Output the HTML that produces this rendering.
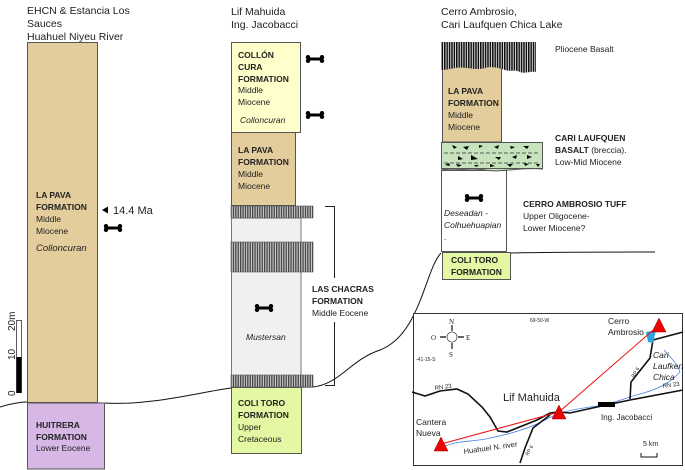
<!DOCTYPE html>
<html><head><meta charset="utf-8"><style>
html,body{margin:0;padding:0;background:#fff}
svg{display:block}
text{font-family:"Liberation Sans",sans-serif;fill:#222}
.t{font-size:10.5px}
.b{font-size:8.5px;font-weight:bold}
.n{font-size:8.5px}
.i{font-size:8.5px;font-style:italic}
</style></head><body>
<svg width="685" height="470" viewBox="0 0 685 470" xmlns="http://www.w3.org/2000/svg">
<defs>
<pattern id="h" width="2.4" height="10" patternUnits="userSpaceOnUse"><rect width="2.4" height="10" fill="#ccc"/><rect width="1.3" height="10" fill="#444"/></pattern>
<pattern id="hb" width="2.4" height="10" patternUnits="userSpaceOnUse"><rect width="2.4" height="10" fill="#fff"/><rect width="1.6" height="10" fill="#111"/></pattern>
<g id="bone"><rect x="3" y="-1.5" width="14" height="3" fill="#000"/><circle cx="3" cy="-1.8" r="2.2"/><circle cx="3" cy="1.8" r="2.2"/><circle cx="17" cy="-1.8" r="2.2"/><circle cx="17" cy="1.8" r="2.2"/></g>
</defs>

<!-- contact line -->
<path d="M0,407 C10,404 18,402 27,402 L104,403 C150,406 200,392 231,388 L313,387 C340,384 350,360 380,350 C420,335 425,270 441,253" fill="none" stroke="#111" stroke-width="1"/>
<path d="M511,253 C560,252 620,252 655,252" fill="none" stroke="#111" stroke-width="1"/>

<!-- column 1 -->
<text class="t" x="27" y="14">EHCN &amp; Estancia Los</text>
<text class="t" x="27" y="27">Sauces</text>
<text class="t" x="27" y="40">Huahuel Niyeu River</text>
<rect x="27.5" y="42.5" width="70" height="360" fill="#e3cd9c" stroke="#555"/>
<rect x="27.5" y="403" width="77" height="66" fill="#d6b7e6" stroke="#555"/>
<text class="b" x="36" y="198">LA PAVA</text>
<text class="b" x="36" y="210">FORMATION</text>
<text class="n" x="36" y="222">Middle</text>
<text class="n" x="36" y="234">Miocene</text>
<text class="i" x="36" y="251" style="font-size:9.5px">Colloncuran</text>
<text class="b" x="36" y="428">HUITRERA</text>
<text class="b" x="36" y="440">FORMATION</text>
<text class="n" x="36" y="451">Lower Eocene</text>
<path d="M102,210 L108,206.5 L108,213.5Z" fill="#000"/>
<text x="113" y="214" style="font-size:11px">14.4 Ma</text>
<use href="#bone" x="103" y="228"/>
<rect x="16.5" y="320.5" width="5" height="72" fill="#fff" stroke="#333" stroke-width="0.8"/>
<rect x="16.5" y="357" width="5" height="36" fill="#000"/>
<text x="15" y="396" transform="rotate(-90 15 396)" style="font-size:10px">0</text>
<text x="15" y="360" transform="rotate(-90 15 360)" style="font-size:10px">10</text>
<text x="15" y="331" transform="rotate(-90 15 331)" style="font-size:10px">20m</text>

<!-- column 2 -->
<text class="t" x="231" y="15">Lif Mahuida</text>
<text class="t" x="231" y="28">Ing. Jacobacci</text>
<rect x="231.5" y="42.5" width="69" height="90" fill="#ffffcc" stroke="#555"/>
<rect x="231.5" y="132.5" width="64" height="73" fill="#e3cd9c" stroke="#555"/>
<rect x="231.5" y="218" width="69.5" height="158" fill="#f0f0f0" stroke="#777"/>
<rect x="231" y="206" width="82" height="12" fill="url(#h)" stroke="#555" stroke-width="0.6"/>
<rect x="231" y="242" width="82" height="30" fill="url(#h)" stroke="#555" stroke-width="0.6"/>
<rect x="231" y="375" width="82" height="12" fill="url(#h)" stroke="#555" stroke-width="0.6"/>
<rect x="231.5" y="387.5" width="70" height="66" fill="#e4f7a2" stroke="#555"/>
<text class="b" x="238" y="58">COLLÓN</text>
<text class="b" x="238" y="70">CURA</text>
<text class="b" x="238" y="82">FORMATION</text>
<text class="n" x="238" y="93">Middle</text>
<text class="n" x="238" y="105">Miocene</text>
<text class="i" x="240" y="123">Colloncuran</text>
<use href="#bone" x="305" y="59"/>
<use href="#bone" x="305" y="115"/>
<text class="b" x="238" y="153">LA PAVA</text>
<text class="b" x="238" y="165">FORMATION</text>
<text class="n" x="238" y="177">Middle</text>
<text class="n" x="238" y="189">Miocene</text>
<use href="#bone" x="254" y="308"/>
<text class="i" x="246" y="340">Mustersan</text>
<text class="b" x="238" y="406">COLI TORO</text>
<text class="b" x="238" y="418">FORMATION</text>
<text class="n" x="238" y="430">Upper</text>
<text class="n" x="238" y="442">Cretaceous</text>
<path d="M325,206.5 H334.5 V278 M334.5,322 V385.5 H325" fill="none" stroke="#222" stroke-width="1"/>
<text class="b" x="312" y="292">LAS CHACRAS</text>
<text class="b" x="312" y="304">FORMATION</text>
<text class="n" x="312" y="316">Middle Eocene</text>

<!-- column 3 -->
<text class="t" x="441" y="15">Cerro Ambrosio,</text>
<text class="t" x="441" y="28">Cari Laufquen Chica Lake</text>
<rect x="441.5" y="170.5" width="65" height="81" fill="#fff" stroke="#555"/>
<rect x="442.5" y="252.5" width="68" height="27" fill="#e4f7a2" stroke="#555"/>
<rect x="442.5" y="60" width="59" height="82" fill="#e3cd9c" stroke="#555"/>
<path d="M441,42 H536 V72 C530,71 525,74 520,72 C515,69 510,72 505,70 C498,68 492,66 485,68 C475,71 465,66 455,68 C450,69 445,70 441,70Z" fill="url(#hb)"/>
<rect x="441.5" y="142.5" width="101" height="26" fill="#c6e3bd" stroke="#555"/>
<path d="M441,169 C455,172 470,167 485,170 C500,173 520,167 543,169" fill="#c6e3bd" stroke="#555"/>
<path d="M444,153 H540 M444,163 H540" stroke="#333" stroke-dasharray="4 2" stroke-width="0.8"/>
<g fill="#000">
<path d="M452,145l5,2-3,2z M463,147l6,-1-2,4z M479,145l4,1-4,2z M494,147l5,-2-1,4z M510,146l5,1-4,2z M523,146l6,0-2,3z M458,156l5,3-5,1z M471,155l7,4-7,1z M495,157l6,0-2,3z M512,157l5,-2-1,4z M527,155l5,2-5,2z M445,165l4,-2 1,3z M456,164l6,1-4,2z M474,165l5,0-3,2z M490,164l5,2-5,1z M507,164l6,0-3,3z M524,163l5,1-4,2z M536,164l4,0-2,3z"/>
</g>
<text class="b" x="448" y="94">LA PAVA</text>
<text class="b" x="448" y="106">FORMATION</text>
<text class="n" x="448" y="118">Middle</text>
<text class="n" x="448" y="130">Miocene</text>
<use href="#bone" x="464" y="198"/>
<text class="i" x="444" y="216">Deseadan -</text>
<text class="i" x="444" y="228">Colhuehuapian</text>
<text class="n" x="444" y="240">.</text>
<text class="b" x="451" y="263">COLI TORO</text>
<text class="b" x="451" y="275">FORMATION</text>
<text class="n" x="555" y="52">Pliocene Basalt</text>
<text class="b" x="555" y="141">CARI LAUFQUEN</text>
<text class="b" x="555" y="153">BASALT <tspan style="font-weight:normal">(breccia).</tspan></text>
<text class="n" x="555" y="165">Low-Mid Miocene</text>
<text class="b" x="523" y="207">CERRO AMBROSIO TUFF</text>
<text class="n" x="523" y="219">Upper Oligocene-</text>
<text class="n" x="523" y="231">Lower Miocene?</text>

<!-- map -->
<rect x="413.5" y="313.5" width="269" height="152" fill="#fff" stroke="#333" stroke-width="1"/>
<circle cx="452" cy="337" r="5" fill="#fff" stroke="#555" stroke-width="0.8"/>
<path d="M452,325V331 M452,343V349 M440,337H446 M458,337H464" stroke="#333" stroke-width="1.4"/>
<text x="449" y="324" style="font-size:7px;font-family:'Liberation Serif',serif">N</text>
<text x="449" y="357" style="font-size:7px;font-family:'Liberation Serif',serif">S</text>
<text x="431" y="340" style="font-size:7px;font-family:'Liberation Serif',serif">O</text>
<text x="466" y="340" style="font-size:7px;font-family:'Liberation Serif',serif">E</text>
<text x="530" y="322" style="font-size:5px">69-50-W</text>
<text x="416" y="361" style="font-size:5px">-41-15-S</text>
<path d="M445,446 C460,440 475,442 490,438 C510,434 530,428 545,420 C560,412 570,410 590,407 C610,405 625,398 640,394 C655,390 668,385 680,372 C675,360 668,355 664,350" fill="none" stroke="#4a7fe6" stroke-width="0.8"/>
<path d="M412,392 L425,396 L440,391 L457,389 L468,394 L482,407 L490,417 L498,431 L507,432 L537,420 L550,413 L558,412 L570,413 L597,407 L630,400 L683,390" fill="none" stroke="#111" stroke-width="1.6"/>
<path d="M630,399 L631,382 L650,358 L653,340 L683,332" fill="none" stroke="#111" stroke-width="1.6"/>
<path d="M520,463 L525,448 L533,428 L550,415" fill="none" stroke="#111" stroke-width="1.6"/>
<rect x="598" y="402" width="17" height="5" fill="#000"/>
<path d="M646,332 L656,330 L653,343 L648,342Z" fill="#2aa5df"/>
<path d="M441,444 L559,412 L659,325" fill="none" stroke="#e11" stroke-width="1"/>
<path d="M441,437 L448,451 L434,451Z M559,405 L566,419 L552,419Z M659,318 L666,332 L652,332Z" fill="#e00" stroke="#900" stroke-width="0.5"/>
<text x="608" y="324" class="n">Cerro</text>
<text x="608" y="335" class="n">Ambrosio</text>
<text x="653" y="358" class="i">Cari</text>
<text x="653" y="369" class="i">Laufken</text>
<text x="653" y="380" class="i">Chica</text>
<text x="435" y="390" style="font-size:6px" transform="rotate(-8 435 390)">RN 23</text>
<text x="663" y="388" style="font-size:6px" transform="rotate(-8 663 388)">RN 23</text>
<text x="634" y="378" style="font-size:5px" transform="rotate(-60 634 378)">RP 6</text>
<text x="528" y="456" style="font-size:5px" transform="rotate(-60 528 456)">RP 6</text>
<text x="503" y="401" style="font-size:11px">Lif Mahuida</text>
<text x="416" y="425" class="n">Cantera</text>
<text x="416" y="436" class="n">Nueva</text>
<text x="464" y="454" style="font-size:7.5px" transform="rotate(-8 464 454)">Huahuel N. river</text>
<text x="601" y="420" style="font-size:8px">Ing. Jacobacci</text>
<text x="643" y="446" style="font-size:7px">5 km</text>
<path d="M641,453 V457 H657 V453" fill="none" stroke="#111" stroke-width="1"/>
</svg>
</body></html>
